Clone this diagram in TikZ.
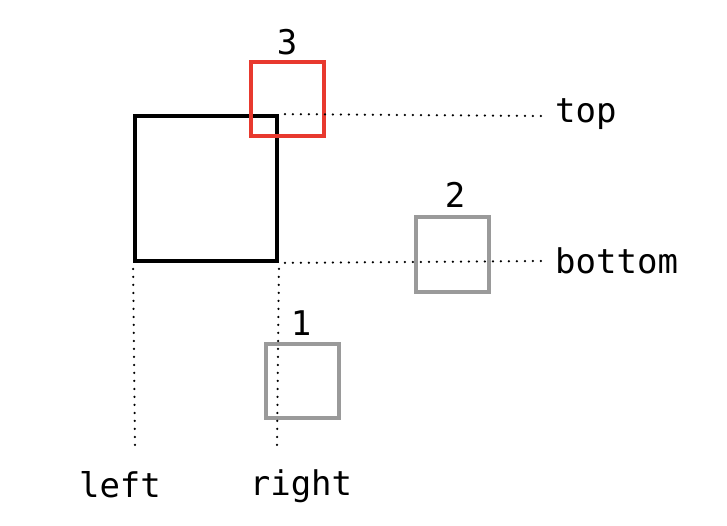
\documentclass[tikz,border=0pt]{standalone}
\usepackage{fontspec}
\setmonofont{DejaVu Sans Mono}
\begin{document}
\begin{tikzpicture}[x=1pt,y=-1pt,
  lbl/.style={font=\ttfamily\fontsize{34}{34}\selectfont, anchor=base, inner sep=0pt},
  sq/.style={draw, line width=4pt, minimum width=73pt, minimum height=74pt, inner sep=0pt},
  guide/.style={line width=2.5pt, line cap=round, dash pattern=on 0pt off 8pt}]
\useasboundingbox (0,0) rectangle (727,526);
\definecolor{redsq}{HTML}{E8392E}
\definecolor{graysq}{HTML}{9A9A9A}
% main black square
\node[draw, line width=3.8pt, minimum width=142pt, minimum height=145pt, inner sep=0pt] (main) at (206,188.5) {};
% squares
\node[sq, draw=graysq] (s2) at (452.5,254.5) {};
\node[sq, draw=graysq] (s1) at (302.5,380.5) {};
\node[sq, draw=redsq] (s3) at (287.5,99.5) {};
% guide end points
\coordinate (topend) at (541,116);
\coordinate (botend) at (545,261);
\coordinate (leftend) at (135,448);
\coordinate (rightend) at (277,448);
\draw[guide] ([xshift=6pt]main.north east) -- (topend);
\draw[guide] ([xshift=6pt]main.south east) -- (botend);
\draw[guide] ([yshift=-6pt]main.south west) -- (leftend);
\draw[guide] ([yshift=-6pt]main.south east) -- (rightend);
% labels
\node[lbl] (l3) at (287,55) {3};
\node[lbl] (l2) at (455,208) {2};
\node[lbl] (l1) at (301,335) {1};
\node[lbl, anchor=base west] (ltop) at (555,123) {top};
\node[lbl, anchor=base west] (lbot) at (555,273) {bottom};
\node[lbl] (lleft) at (120,497) {left};
\node[lbl] (lright) at (301,495) {right};
\end{tikzpicture}
\end{document}
